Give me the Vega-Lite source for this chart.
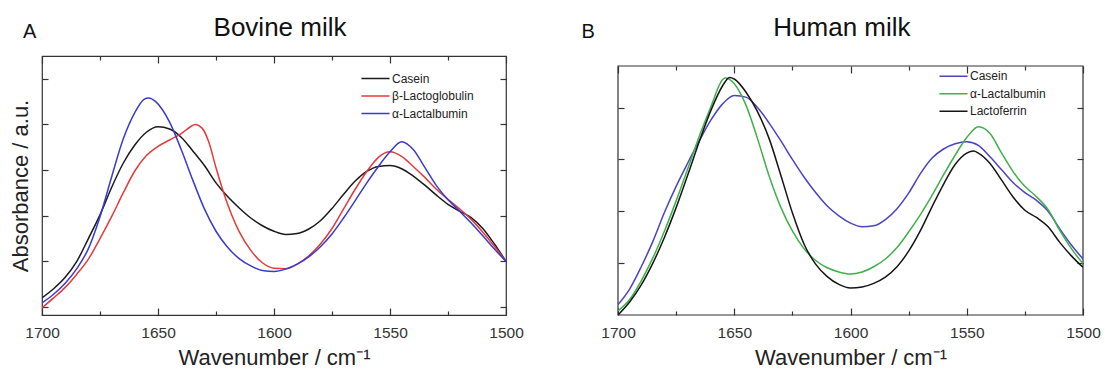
{
  "$schema": "https://vega.github.io/schema/vega-lite/v6.json",
  "padding": {"left": 8, "top": 14, "right": 0, "bottom": 0},
  "config": {
    "font": "Liberation Sans",
    "view": {"stroke": "#333", "strokeWidth": 1.2},
    "axis": {"grid": false, "domain": false, "tickColor": "#333", "tickWidth": 1.2, "labelFlush": false, "labelColor": "#333", "labelFontSize": 15.5, "titleFontWeight": "normal", "titleFontSize": 22, "titleColor": "#222", "minExtent": 0},
    "legend": {"orient": "none", "symbolType": "M-1.87,0H1.87", "symbolSize": 225, "symbolStrokeWidth": 1.5, "labelFontSize": 12, "labelColor": "#222", "title": null, "labelOffset": 8, "rowPadding": 2.5, "padding": 0}
  },
  "spacing": 57,
  "datasets": {
    "bovine": [
      {"w":1700,"a":0.20,"s":"Casein"},{"w":1695,"a":0.40,"s":"Casein"},{"w":1690,"a":0.65,"s":"Casein"},{"w":1685,"a":1.00,"s":"Casein"},{"w":1680,"a":1.50,"s":"Casein"},{"w":1675,"a":2.02,"s":"Casein"},{"w":1670,"a":2.62,"s":"Casein"},{"w":1665,"a":3.15,"s":"Casein"},{"w":1660,"a":3.55,"s":"Casein"},{"w":1655,"a":3.83,"s":"Casein"},{"w":1650,"a":3.95,"s":"Casein"},{"w":1645,"a":3.90,"s":"Casein"},{"w":1640,"a":3.72,"s":"Casein"},{"w":1635,"a":3.42,"s":"Casein"},{"w":1630,"a":3.10,"s":"Casein"},{"w":1625,"a":2.72,"s":"Casein"},{"w":1620,"a":2.42,"s":"Casein"},{"w":1615,"a":2.17,"s":"Casein"},{"w":1610,"a":1.95,"s":"Casein"},{"w":1605,"a":1.78,"s":"Casein"},{"w":1600,"a":1.66,"s":"Casein"},{"w":1595,"a":1.59,"s":"Casein"},{"w":1590,"a":1.61,"s":"Casein"},{"w":1585,"a":1.71,"s":"Casein"},{"w":1580,"a":1.89,"s":"Casein"},{"w":1575,"a":2.16,"s":"Casein"},{"w":1570,"a":2.47,"s":"Casein"},{"w":1565,"a":2.76,"s":"Casein"},{"w":1560,"a":2.97,"s":"Casein"},{"w":1555,"a":3.08,"s":"Casein"},{"w":1550,"a":3.10,"s":"Casein"},{"w":1545,"a":3.03,"s":"Casein"},{"w":1540,"a":2.87,"s":"Casein"},{"w":1535,"a":2.67,"s":"Casein"},{"w":1530,"a":2.45,"s":"Casein"},{"w":1525,"a":2.25,"s":"Casein"},{"w":1520,"a":2.10,"s":"Casein"},{"w":1515,"a":1.96,"s":"Casein"},{"w":1510,"a":1.72,"s":"Casein"},{"w":1505,"a":1.38,"s":"Casein"},{"w":1500,"a":1.00,"s":"Casein"},
      {"w":1700,"a":-0.02,"s":"β-Lactoglobulin"},{"w":1695,"a":0.20,"s":"β-Lactoglobulin"},{"w":1690,"a":0.43,"s":"β-Lactoglobulin"},{"w":1685,"a":0.72,"s":"β-Lactoglobulin"},{"w":1680,"a":1.05,"s":"β-Lactoglobulin"},{"w":1675,"a":1.50,"s":"β-Lactoglobulin"},{"w":1670,"a":1.98,"s":"β-Lactoglobulin"},{"w":1665,"a":2.50,"s":"β-Lactoglobulin"},{"w":1660,"a":2.98,"s":"β-Lactoglobulin"},{"w":1655,"a":3.32,"s":"β-Lactoglobulin"},{"w":1650,"a":3.52,"s":"β-Lactoglobulin"},{"w":1645,"a":3.66,"s":"β-Lactoglobulin"},{"w":1640,"a":3.80,"s":"β-Lactoglobulin"},{"w":1636,"a":3.95,"s":"β-Lactoglobulin"},{"w":1634,"a":4.00,"s":"β-Lactoglobulin"},{"w":1631,"a":3.92,"s":"β-Lactoglobulin"},{"w":1628,"a":3.60,"s":"β-Lactoglobulin"},{"w":1625,"a":3.05,"s":"β-Lactoglobulin"},{"w":1620,"a":2.25,"s":"β-Lactoglobulin"},{"w":1615,"a":1.65,"s":"β-Lactoglobulin"},{"w":1610,"a":1.24,"s":"β-Lactoglobulin"},{"w":1605,"a":0.97,"s":"β-Lactoglobulin"},{"w":1600,"a":0.85,"s":"β-Lactoglobulin"},{"w":1595,"a":0.84,"s":"β-Lactoglobulin"},{"w":1590,"a":0.94,"s":"β-Lactoglobulin"},{"w":1585,"a":1.12,"s":"β-Lactoglobulin"},{"w":1580,"a":1.38,"s":"β-Lactoglobulin"},{"w":1575,"a":1.72,"s":"β-Lactoglobulin"},{"w":1570,"a":2.15,"s":"β-Lactoglobulin"},{"w":1565,"a":2.58,"s":"β-Lactoglobulin"},{"w":1560,"a":2.97,"s":"β-Lactoglobulin"},{"w":1555,"a":3.28,"s":"β-Lactoglobulin"},{"w":1550,"a":3.40,"s":"β-Lactoglobulin"},{"w":1545,"a":3.30,"s":"β-Lactoglobulin"},{"w":1540,"a":3.08,"s":"β-Lactoglobulin"},{"w":1535,"a":2.84,"s":"β-Lactoglobulin"},{"w":1530,"a":2.58,"s":"β-Lactoglobulin"},{"w":1525,"a":2.36,"s":"β-Lactoglobulin"},{"w":1520,"a":2.15,"s":"β-Lactoglobulin"},{"w":1515,"a":1.92,"s":"β-Lactoglobulin"},{"w":1510,"a":1.64,"s":"β-Lactoglobulin"},{"w":1505,"a":1.33,"s":"β-Lactoglobulin"},{"w":1500,"a":1.00,"s":"β-Lactoglobulin"},
      {"w":1700,"a":0.09,"s":"α-Lactalbumin"},{"w":1695,"a":0.28,"s":"α-Lactalbumin"},{"w":1690,"a":0.52,"s":"α-Lactalbumin"},{"w":1685,"a":0.84,"s":"α-Lactalbumin"},{"w":1680,"a":1.28,"s":"α-Lactalbumin"},{"w":1675,"a":1.98,"s":"α-Lactalbumin"},{"w":1670,"a":2.85,"s":"α-Lactalbumin"},{"w":1665,"a":3.68,"s":"α-Lactalbumin"},{"w":1660,"a":4.26,"s":"α-Lactalbumin"},{"w":1656,"a":4.55,"s":"α-Lactalbumin"},{"w":1654,"a":4.58,"s":"α-Lactalbumin"},{"w":1651,"a":4.50,"s":"α-Lactalbumin"},{"w":1645,"a":4.05,"s":"α-Lactalbumin"},{"w":1640,"a":3.45,"s":"α-Lactalbumin"},{"w":1635,"a":2.78,"s":"α-Lactalbumin"},{"w":1630,"a":2.15,"s":"α-Lactalbumin"},{"w":1625,"a":1.66,"s":"α-Lactalbumin"},{"w":1620,"a":1.31,"s":"α-Lactalbumin"},{"w":1615,"a":1.06,"s":"α-Lactalbumin"},{"w":1610,"a":0.90,"s":"α-Lactalbumin"},{"w":1605,"a":0.80,"s":"α-Lactalbumin"},{"w":1600,"a":0.78,"s":"α-Lactalbumin"},{"w":1595,"a":0.83,"s":"α-Lactalbumin"},{"w":1590,"a":0.94,"s":"α-Lactalbumin"},{"w":1585,"a":1.10,"s":"α-Lactalbumin"},{"w":1580,"a":1.32,"s":"α-Lactalbumin"},{"w":1575,"a":1.60,"s":"α-Lactalbumin"},{"w":1570,"a":1.95,"s":"α-Lactalbumin"},{"w":1565,"a":2.33,"s":"α-Lactalbumin"},{"w":1560,"a":2.72,"s":"α-Lactalbumin"},{"w":1555,"a":3.08,"s":"α-Lactalbumin"},{"w":1550,"a":3.40,"s":"α-Lactalbumin"},{"w":1545,"a":3.62,"s":"α-Lactalbumin"},{"w":1540,"a":3.45,"s":"α-Lactalbumin"},{"w":1535,"a":3.06,"s":"α-Lactalbumin"},{"w":1530,"a":2.66,"s":"α-Lactalbumin"},{"w":1525,"a":2.35,"s":"α-Lactalbumin"},{"w":1520,"a":2.10,"s":"α-Lactalbumin"},{"w":1515,"a":1.84,"s":"α-Lactalbumin"},{"w":1510,"a":1.56,"s":"α-Lactalbumin"},{"w":1505,"a":1.27,"s":"α-Lactalbumin"},{"w":1500,"a":1.00,"s":"α-Lactalbumin"}
    ],
    "human": [
      {"w":1700,"a":0.20,"s":"Casein"},{"w":1695,"a":0.50,"s":"Casein"},{"w":1690,"a":0.93,"s":"Casein"},{"w":1685,"a":1.42,"s":"Casein"},{"w":1680,"a":1.98,"s":"Casein"},{"w":1675,"a":2.48,"s":"Casein"},{"w":1670,"a":2.93,"s":"Casein"},{"w":1665,"a":3.36,"s":"Casein"},{"w":1660,"a":3.76,"s":"Casein"},{"w":1655,"a":4.07,"s":"Casein"},{"w":1650,"a":4.23,"s":"Casein"},{"w":1645,"a":4.20,"s":"Casein"},{"w":1640,"a":4.00,"s":"Casein"},{"w":1635,"a":3.70,"s":"Casein"},{"w":1630,"a":3.36,"s":"Casein"},{"w":1625,"a":3.00,"s":"Casein"},{"w":1620,"a":2.66,"s":"Casein"},{"w":1615,"a":2.36,"s":"Casein"},{"w":1610,"a":2.10,"s":"Casein"},{"w":1605,"a":1.91,"s":"Casein"},{"w":1600,"a":1.77,"s":"Casein"},{"w":1595,"a":1.70,"s":"Casein"},{"w":1590,"a":1.72,"s":"Casein"},{"w":1585,"a":1.84,"s":"Casein"},{"w":1580,"a":2.05,"s":"Casein"},{"w":1575,"a":2.35,"s":"Casein"},{"w":1570,"a":2.72,"s":"Casein"},{"w":1565,"a":3.02,"s":"Casein"},{"w":1560,"a":3.20,"s":"Casein"},{"w":1555,"a":3.30,"s":"Casein"},{"w":1550,"a":3.34,"s":"Casein"},{"w":1545,"a":3.27,"s":"Casein"},{"w":1540,"a":3.05,"s":"Casein"},{"w":1535,"a":2.80,"s":"Casein"},{"w":1530,"a":2.55,"s":"Casein"},{"w":1525,"a":2.36,"s":"Casein"},{"w":1520,"a":2.21,"s":"Casein"},{"w":1515,"a":2.00,"s":"Casein"},{"w":1510,"a":1.66,"s":"Casein"},{"w":1505,"a":1.35,"s":"Casein"},{"w":1500,"a":1.08,"s":"Casein"},
      {"w":1700,"a":0.08,"s":"α-Lactalbumin"},{"w":1695,"a":0.30,"s":"α-Lactalbumin"},{"w":1690,"a":0.66,"s":"α-Lactalbumin"},{"w":1685,"a":1.10,"s":"α-Lactalbumin"},{"w":1680,"a":1.62,"s":"α-Lactalbumin"},{"w":1675,"a":2.20,"s":"α-Lactalbumin"},{"w":1670,"a":2.82,"s":"α-Lactalbumin"},{"w":1665,"a":3.45,"s":"α-Lactalbumin"},{"w":1660,"a":4.02,"s":"α-Lactalbumin"},{"w":1655,"a":4.54,"s":"α-Lactalbumin"},{"w":1654,"a":4.57,"s":"α-Lactalbumin"},{"w":1650,"a":4.46,"s":"α-Lactalbumin"},{"w":1645,"a":4.05,"s":"α-Lactalbumin"},{"w":1640,"a":3.40,"s":"α-Lactalbumin"},{"w":1635,"a":2.68,"s":"α-Lactalbumin"},{"w":1630,"a":2.08,"s":"α-Lactalbumin"},{"w":1625,"a":1.62,"s":"α-Lactalbumin"},{"w":1620,"a":1.28,"s":"α-Lactalbumin"},{"w":1615,"a":1.05,"s":"α-Lactalbumin"},{"w":1610,"a":0.91,"s":"α-Lactalbumin"},{"w":1605,"a":0.83,"s":"α-Lactalbumin"},{"w":1600,"a":0.79,"s":"α-Lactalbumin"},{"w":1595,"a":0.83,"s":"α-Lactalbumin"},{"w":1590,"a":0.93,"s":"α-Lactalbumin"},{"w":1585,"a":1.08,"s":"α-Lactalbumin"},{"w":1580,"a":1.30,"s":"α-Lactalbumin"},{"w":1575,"a":1.60,"s":"α-Lactalbumin"},{"w":1570,"a":1.93,"s":"α-Lactalbumin"},{"w":1565,"a":2.30,"s":"α-Lactalbumin"},{"w":1560,"a":2.70,"s":"α-Lactalbumin"},{"w":1555,"a":3.08,"s":"α-Lactalbumin"},{"w":1550,"a":3.42,"s":"α-Lactalbumin"},{"w":1545,"a":3.63,"s":"α-Lactalbumin"},{"w":1540,"a":3.50,"s":"α-Lactalbumin"},{"w":1535,"a":3.12,"s":"α-Lactalbumin"},{"w":1530,"a":2.76,"s":"α-Lactalbumin"},{"w":1525,"a":2.48,"s":"α-Lactalbumin"},{"w":1520,"a":2.28,"s":"α-Lactalbumin"},{"w":1515,"a":2.03,"s":"α-Lactalbumin"},{"w":1510,"a":1.63,"s":"α-Lactalbumin"},{"w":1505,"a":1.28,"s":"α-Lactalbumin"},{"w":1500,"a":0.99,"s":"α-Lactalbumin"},
      {"w":1700,"a":0.00,"s":"Lactoferrin"},{"w":1695,"a":0.25,"s":"Lactoferrin"},{"w":1690,"a":0.58,"s":"Lactoferrin"},{"w":1685,"a":1.00,"s":"Lactoferrin"},{"w":1680,"a":1.50,"s":"Lactoferrin"},{"w":1675,"a":2.07,"s":"Lactoferrin"},{"w":1670,"a":2.70,"s":"Lactoferrin"},{"w":1665,"a":3.35,"s":"Lactoferrin"},{"w":1660,"a":3.95,"s":"Lactoferrin"},{"w":1655,"a":4.42,"s":"Lactoferrin"},{"w":1652,"a":4.58,"s":"Lactoferrin"},{"w":1650,"a":4.55,"s":"Lactoferrin"},{"w":1645,"a":4.30,"s":"Lactoferrin"},{"w":1640,"a":3.92,"s":"Lactoferrin"},{"w":1635,"a":3.40,"s":"Lactoferrin"},{"w":1630,"a":2.70,"s":"Lactoferrin"},{"w":1625,"a":1.97,"s":"Lactoferrin"},{"w":1620,"a":1.37,"s":"Lactoferrin"},{"w":1615,"a":0.98,"s":"Lactoferrin"},{"w":1610,"a":0.74,"s":"Lactoferrin"},{"w":1605,"a":0.59,"s":"Lactoferrin"},{"w":1600,"a":0.52,"s":"Lactoferrin"},{"w":1595,"a":0.54,"s":"Lactoferrin"},{"w":1590,"a":0.61,"s":"Lactoferrin"},{"w":1585,"a":0.73,"s":"Lactoferrin"},{"w":1580,"a":0.93,"s":"Lactoferrin"},{"w":1575,"a":1.23,"s":"Lactoferrin"},{"w":1570,"a":1.62,"s":"Lactoferrin"},{"w":1565,"a":2.08,"s":"Lactoferrin"},{"w":1560,"a":2.52,"s":"Lactoferrin"},{"w":1555,"a":2.90,"s":"Lactoferrin"},{"w":1550,"a":3.12,"s":"Lactoferrin"},{"w":1547,"a":3.16,"s":"Lactoferrin"},{"w":1545,"a":3.12,"s":"Lactoferrin"},{"w":1540,"a":2.92,"s":"Lactoferrin"},{"w":1535,"a":2.60,"s":"Lactoferrin"},{"w":1530,"a":2.27,"s":"Lactoferrin"},{"w":1525,"a":2.02,"s":"Lactoferrin"},{"w":1520,"a":1.88,"s":"Lactoferrin"},{"w":1515,"a":1.70,"s":"Lactoferrin"},{"w":1510,"a":1.40,"s":"Lactoferrin"},{"w":1505,"a":1.14,"s":"Lactoferrin"},{"w":1500,"a":0.92,"s":"Lactoferrin"}
    ]
  },
  "hconcat": [
    {
      "width": 464,
      "height": 259,
      "layer": [
        {
          "data": {"name": "bovine"},
          "mark": {"type": "line", "strokeWidth": 1.5, "clip": true, "interpolate": "monotone"},
          "encoding": {
            "x": {"field": "w", "type": "quantitative", "scale": {"domain": [1500, 1700], "reverse": true, "nice": false, "zero": false},
              "axis": {"orient": "bottom", "values": [1700,1650,1600,1550,1500], "format": "d", "tickSize": -7, "labelPadding": 17, "title": "Wavenumber / cm⁻¹", "titlePadding": 7}},
            "y": {"field": "a", "type": "quantitative", "scale": {"domain": [-0.175, 5.5], "nice": false, "zero": false},
              "axis": {"orient": "left", "values": [0,1,2,3,4,5], "labels": false, "tickSize": -6, "title": "Absorbance / a.u.", "titlePadding": 9}},
            "color": {"field": "s", "type": "nominal", "sort": ["Casein", "β-Lactoglobulin", "α-Lactalbumin"],
              "scale": {"domain": ["Casein", "β-Lactoglobulin", "α-Lactalbumin"], "range": ["#1a1a1a", "#e53a3a", "#3a3ad0"]},
              "legend": {"legendX": 325, "legendY": 14}}
          }
        },
        {
          "data": {"name": "bovine"},
          "mark": {"type": "line", "opacity": 0},
          "encoding": {
            "x": {"field": "w", "type": "quantitative", "axis": {"orient": "top", "values": [1700,1650,1600,1550,1500], "labels": false, "tickSize": -7, "title": null}},
            "y": {"field": "a", "type": "quantitative", "axis": {"orient": "right", "values": [0,1,2,3,4,5], "labels": false, "tickSize": -6, "title": null}},
            "detail": {"field": "s"}
          }
        },
        {
          "data": {"values": [{"name": "Bovine milk"}]},
          "mark": {"type": "text", "fontSize": 26, "align": "center", "baseline": "alphabetic", "color": "#111"},
          "encoding": {
            "x": {"datum": 1597.4, "type": "quantitative", "axis": {"orient": "bottom", "values": [1675,1625,1575,1525], "labels": false, "tickSize": -4, "title": null}},
            "y": {"datum": 5.94, "type": "quantitative", "axis": null},
            "text": {"field": "name"}
          }
        },
        {
          "data": {"values": [{"panel": "A"}]},
          "mark": {"type": "text", "fontSize": 20, "align": "left", "baseline": "alphabetic", "color": "#111"},
          "encoding": {
            "x": {"datum": 1708.2, "type": "quantitative", "axis": {"orient": "top", "values": [1675,1625,1575,1525], "labels": false, "tickSize": -4, "title": null}},
            "y": {"datum": 5.894, "type": "quantitative", "axis": null},
            "text": {"field": "panel"}
          }
        }
      ],
      "resolve": {"axis": {"x": "independent", "y": "independent"}}
    },
    {
      "width": 465,
      "height": 259,
      "view": {"stroke": null},
      "layer": [
        {
          "data": {"values": [{"frame": "box"}]},
          "mark": {"type": "rect", "filled": false, "stroke": "#333", "strokeWidth": 1.2},
          "encoding": {
            "x": {"datum": 1700, "type": "quantitative", "axis": null},
            "x2": {"datum": 1500},
            "y": {"datum": 4.8, "type": "quantitative", "axis": null},
            "y2": {"datum": 0}
          }
        },
        {
          "data": {"name": "human"},
          "mark": {"type": "line", "strokeWidth": 1.5, "clip": true, "interpolate": "monotone"},
          "encoding": {
            "x": {"field": "w", "type": "quantitative", "scale": {"domain": [1500, 1700], "reverse": true, "nice": false, "zero": false},
              "axis": {"orient": "bottom", "values": [1700,1650,1600,1550,1500], "format": "d", "tickSize": -7, "labelPadding": 17, "title": "Wavenumber / cm⁻¹", "titlePadding": 7}},
            "y": {"field": "a", "type": "quantitative", "scale": {"domain": [0, 4.993], "nice": false, "zero": false},
              "axis": {"orient": "left", "values": [1,2,3,4], "labels": false, "tickSize": -6, "title": null}},
            "color": {"field": "s", "type": "nominal", "sort": ["Casein", "α-Lactalbumin", "Lactoferrin"],
              "scale": {"domain": ["Casein", "α-Lactalbumin", "Lactoferrin"], "range": ["#4a44c4", "#3fb04a", "#151515"]},
              "legend": {"legendX": 327, "legendY": 11.75}}
          }
        },
        {
          "data": {"name": "human"},
          "mark": {"type": "line", "opacity": 0},
          "encoding": {
            "x": {"field": "w", "type": "quantitative", "axis": {"orient": "top", "offset": -10, "values": [1700,1650,1600,1550,1500], "labels": false, "tickSize": -7, "title": null}},
            "y": {"field": "a", "type": "quantitative", "axis": {"orient": "right", "values": [1,2,3,4], "labels": false, "tickSize": -6, "title": null}},
            "detail": {"field": "s"}
          }
        },
        {
          "data": {"values": [{"name": "Human  milk"}]},
          "mark": {"type": "text", "fontSize": 26, "align": "center", "baseline": "alphabetic", "color": "#111"},
          "encoding": {
            "x": {"datum": 1603.7, "type": "quantitative", "axis": {"orient": "bottom", "values": [1675,1625,1575,1525], "labels": false, "tickSize": -4, "title": null}},
            "y": {"datum": 5.378, "type": "quantitative", "axis": null},
            "text": {"field": "name"}
          }
        },
        {
          "data": {"values": [{"panel": "B"}]},
          "mark": {"type": "text", "fontSize": 20, "align": "left", "baseline": "alphabetic", "color": "#111"},
          "encoding": {
            "x": {"datum": 1715.7, "type": "quantitative", "axis": {"orient": "top", "offset": -10, "values": [1675,1625,1575,1525], "labels": false, "tickSize": -4, "title": null}},
            "y": {"datum": 5.34, "type": "quantitative", "axis": null},
            "text": {"field": "panel"}
          }
        }
      ],
      "resolve": {"axis": {"x": "independent", "y": "independent"}}
    }
  ],
  "resolve": {"scale": {"color": "independent"}}
}
